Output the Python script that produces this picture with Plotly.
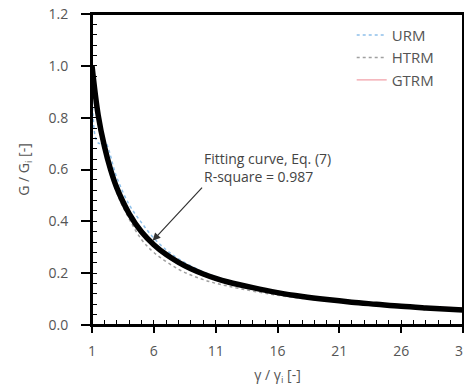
import plotly.graph_objects as go

# Fitting curve, Eq. (7)
fit_x = [1, 1.5, 2, 2.5, 3, 4, 5, 6, 7, 8, 9, 10, 11, 12, 14, 16, 18, 20, 22, 24, 26, 28, 31]
fit_y = [1.0, 0.81, 0.69, 0.60, 0.53, 0.43, 0.36, 0.31, 0.272, 0.242, 0.217, 0.197, 0.18, 0.166, 0.144, 0.125, 0.11, 0.098, 0.088, 0.08, 0.072, 0.066, 0.058]

# Test series
urm_x = [1, 1.3, 1.6, 2, 3, 4, 5, 6, 7, 8, 10, 12, 16, 20, 26, 31]
urm_y = [0.98, 0.72, 0.70, 0.71, 0.57, 0.465, 0.395, 0.335, 0.29, 0.255, 0.205, 0.172, 0.128, 0.10, 0.075, 0.06]
htrm_x = [1, 2, 3, 4, 5, 6, 8, 10, 12, 16, 20, 26, 31]
htrm_y = [0.99, 0.68, 0.51, 0.41, 0.33, 0.28, 0.215, 0.175, 0.15, 0.115, 0.093, 0.072, 0.06]
gtrm_x = [1, 2, 3, 4, 5, 6, 8, 10, 12, 16, 20, 26, 31]
gtrm_y = [1.02, 0.70, 0.535, 0.43, 0.355, 0.305, 0.235, 0.19, 0.16, 0.123, 0.1, 0.076, 0.066]

x_ticks = [1, 6, 11, 16, 21, 26, 31]
y_ticks = [0.0, 0.2, 0.4, 0.6, 0.8, 1.0, 1.2]

font = "Open Sans"
grey = "#555555"

fig = go.Figure()
fig.add_trace(go.Scatter(x=urm_x, y=urm_y, mode="lines", name="URM",
                         line=dict(color="#8ec0ea", width=1.5, dash="dot", shape="spline")))
fig.add_trace(go.Scatter(x=htrm_x, y=htrm_y, mode="lines", name="HTRM",
                         line=dict(color="#a0a0a0", width=1.5, dash="dot", shape="spline")))
fig.add_trace(go.Scatter(x=gtrm_x, y=gtrm_y, mode="lines", name="GTRM",
                         line=dict(color="#f2a0a8", width=1.2, shape="spline")))
fig.add_trace(go.Scatter(x=fit_x, y=fit_y, mode="lines", name="Fit", showlegend=False,
                         line=dict(color="black", width=5.5, shape="spline")))

fig.add_annotation(x=5.9, y=0.325, ax=9.9, ay=0.53, axref="x", ayref="y",
                   xanchor="left", yanchor="bottom", align="left",
                   showarrow=True, arrowhead=2, arrowsize=1.3, arrowwidth=1.2,
                   arrowcolor="#333333",
                   text="Fitting curve, Eq. (7)<br>R-square = 0.987",
                   font=dict(family=font, size=14, color="#444444"))

# plot frame (top and right borders)
fig.add_shape(type="rect", xref="paper", yref="paper", x0=0, y0=0, x1=1, y1=1,
              line=dict(color="black", width=2), layer="above")

fig.update_layout(
    width=464, height=384,
    margin=dict(l=84, r=9, t=6, b=67, autoexpand=False),
    paper_bgcolor="white", plot_bgcolor="white",
    font=dict(family=font, size=14, color=grey),
    legend=dict(x=0.70, y=0.985, xanchor="left", yanchor="top",
                bgcolor="rgba(0,0,0,0)", font=dict(size=15, color=grey),
                tracegroupgap=0, itemwidth=30),
    showlegend=True,
)
fig.update_xaxes(
    range=[1, 31], tickmode="array", tickvals=x_ticks, ticktext=[str(v) for v in x_ticks],
    automargin=False,
    showgrid=False, zeroline=False, showline=True, linecolor="black", linewidth=2,
    mirror=True, ticks="outside", ticklen=6, tickwidth=1.5, tickcolor="black",
    ticklabelstandoff=6, ticklabeloverflow="allow",
    minor=dict(ticks="inside", dtick=1, tick0=1, ticklen=5, tickwidth=1.2, tickcolor="black"),
    title=dict(text="γ / γ<sub>i</sub> [-]", font=dict(size=14, color=grey), standoff=11),
)
fig.update_yaxes(
    range=[0, 1.2], tickmode="array", tickvals=y_ticks, ticktext=[f"{v:.1f}" for v in y_ticks],
    automargin=False,
    showgrid=False, zeroline=False, showline=True, linecolor="black", linewidth=2,
    mirror=True, ticks="outside", ticklen=9, tickwidth=1.5, tickcolor="black",
    ticklabelstandoff=10, ticklabeloverflow="allow",
    minor=dict(ticks="inside", dtick=0.04, tick0=0, ticklen=5, tickwidth=1.2, tickcolor="black"),
    title=dict(text="G / G<sub>i</sub> [-]", font=dict(size=14, color=grey), standoff=16),
)

fig.write_html("out.html")
